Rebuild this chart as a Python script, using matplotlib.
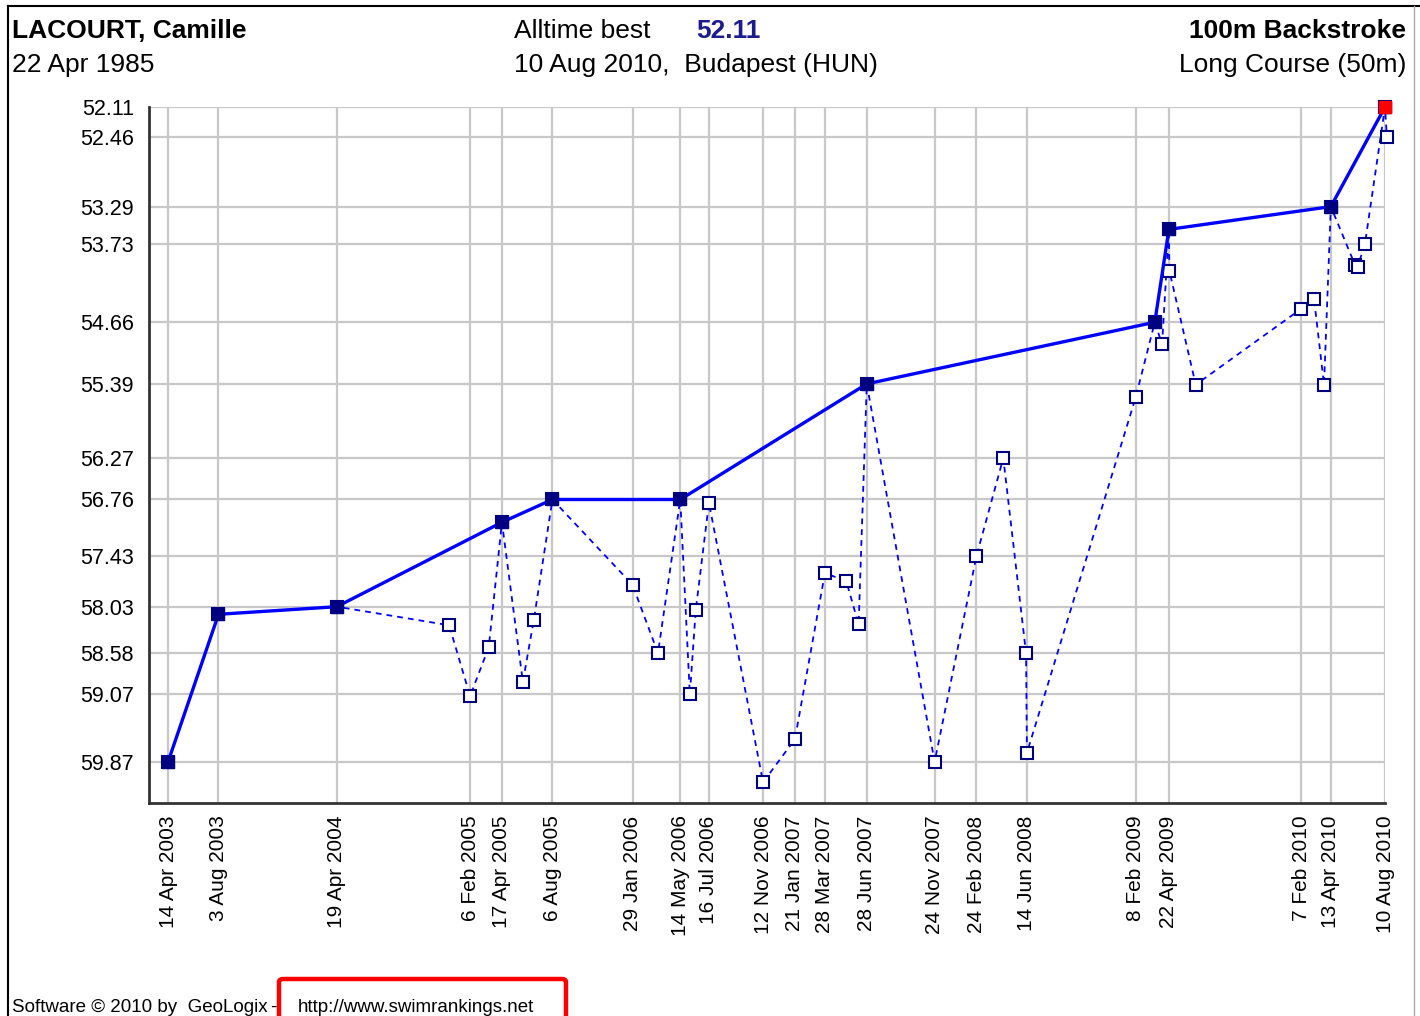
import datetime as dt
import matplotlib
matplotlib.use("Agg")
import matplotlib.pyplot as plt
import matplotlib.dates as mdates
from matplotlib.patches import FancyBboxPatch
from matplotlib.lines import Line2D

plt.rcParams['font.family'] = ['Liberation Sans', 'DejaVu Sans']

D = dt.datetime

# ---- data ----
# every swim, chronological (includes the personal bests)
swim_dates = [
    D(2003, 4, 14), D(2003, 8, 3), D(2004, 4, 19), D(2004, 12, 22), D(2005, 2, 6),
    D(2005, 3, 19), D(2005, 4, 17), D(2005, 6, 2), D(2005, 6, 26), D(2005, 8, 6),
    D(2006, 1, 29), D(2006, 3, 26), D(2006, 5, 14), D(2006, 6, 4), D(2006, 6, 17),
    D(2006, 7, 16), D(2006, 11, 12), D(2007, 1, 21), D(2007, 3, 28), D(2007, 5, 14),
    D(2007, 6, 10), D(2007, 6, 28), D(2007, 11, 24), D(2008, 2, 24), D(2008, 4, 23),
    D(2008, 6, 12), D(2008, 6, 14), D(2009, 2, 8), D(2009, 3, 22), D(2009, 4, 7),
    D(2009, 4, 22), D(2009, 4, 23), D(2009, 6, 20), D(2010, 2, 7), D(2010, 3, 7),
    D(2010, 3, 29), D(2010, 4, 13), D(2010, 6, 5), D(2010, 6, 11), D(2010, 6, 27),
    D(2010, 8, 10), D(2010, 8, 14),
]
swim_times = [
    59.87, 58.12, 58.03, 58.25, 59.09,
    58.51, 57.03, 58.92, 58.19, 56.76,
    57.77, 58.58, 56.76, 59.07, 58.07,
    56.80, 60.11, 59.60, 57.63, 57.73,
    58.24, 55.39, 59.87, 57.43, 56.27,
    58.58, 59.76, 55.55, 54.66, 54.92,
    53.56, 54.05, 55.40, 54.50, 54.38,
    55.40, 53.29, 53.98, 54.00, 53.73,
    52.11, 52.46,
]
# personal-best progression
pb_dates = [
    D(2003, 4, 14), D(2003, 8, 3), D(2004, 4, 19), D(2005, 4, 17), D(2005, 8, 6),
    D(2006, 5, 14), D(2007, 6, 28), D(2009, 3, 22), D(2009, 4, 22), D(2010, 4, 13),
    D(2010, 8, 10),
]
pb_times = [59.87, 58.12, 58.03, 57.03, 56.76, 56.76, 55.39, 54.66, 53.56, 53.29, 52.11]

best_date = D(2010, 8, 10)
best_time = 52.11

y_ticks = [52.11, 52.46, 53.29, 53.73, 54.66, 55.39, 56.27, 56.76, 57.43,
           58.03, 58.58, 59.07, 59.87]
x_tick_dates = [
    D(2003, 4, 14), D(2003, 8, 3), D(2004, 4, 19), D(2005, 2, 6), D(2005, 4, 17),
    D(2005, 8, 6), D(2006, 1, 29), D(2006, 5, 14), D(2006, 7, 16), D(2006, 11, 12),
    D(2007, 1, 21), D(2007, 3, 28), D(2007, 6, 28), D(2007, 11, 24), D(2008, 2, 24),
    D(2008, 6, 14), D(2009, 2, 8), D(2009, 4, 22), D(2010, 2, 7), D(2010, 4, 13),
    D(2010, 8, 10),
]
x_tick_labels = [
    "14 Apr 2003", "3 Aug 2003", "19 Apr 2004", "6 Feb 2005", "17 Apr 2005",
    "6 Aug 2005", "29 Jan 2006", "14 May 2006", "16 Jul 2006", "12 Nov 2006",
    "21 Jan 2007", "28 Mar 2007", "28 Jun 2007", "24 Nov 2007", "24 Feb 2008",
    "14 Jun 2008", "8 Feb 2009", "22 Apr 2009", "7 Feb 2010", "13 Apr 2010",
    "10 Aug 2010",
]

# ---- figure ----
W, H = 1420, 1016
fig = plt.figure(figsize=(W / 100, H / 100), dpi=100)

def fx(x):
    return x / W

def fy(y):
    return 1 - y / H

ax = fig.add_axes([fx(149), fy(803), fx(1385) - fx(149), fy(107) - fy(803)])

NAVY = '#000080'
BLUE = '#0000ff'

ax.plot(swim_dates, swim_times, color=BLUE, lw=1.3, ls=(0, (3.2, 2.8)),
        marker='s', ms=9, mfc='white', mec=NAVY, mew=1.5, zorder=3, clip_on=False)
ax.plot(pb_dates, pb_times, color=BLUE, lw=2.4, marker='s', ms=8.5,
        mfc=NAVY, mec=NAVY, zorder=4, clip_on=False)
ax.plot([best_date], [best_time], ls='none', marker='s', ms=8.5, mfc='#ff0000',
        mec='#ff0000', zorder=5, clip_on=False)

x0 = mdates.date2num(x_tick_dates[0])
x1 = mdates.date2num(x_tick_dates[-1])
ppd = (1385 - 168) / (x1 - x0)
ax.set_xlim(x0 - (168 - 149) / ppd, x1)
ppv = (762 - 107) / (59.87 - 52.11)
ax.set_ylim(52.11 + (803 - 107) / ppv, 52.11)

ax.set_xticks(x_tick_dates)
ax.set_xticklabels(x_tick_labels, rotation=90, fontsize=15, ha='center', va='top')
ax.set_yticks(y_ticks)
ax.set_yticklabels([f"{v:.2f}" for v in y_ticks], fontsize=15.5)
ax.tick_params(axis='both', length=0)
ax.tick_params(axis='x', pad=9)
ax.tick_params(axis='y', pad=11)

ax.grid(True, color='#c8c8c8', lw=1.6, zorder=0)
ax.set_axisbelow(True)
for s in ('top', 'right'):
    ax.spines[s].set_visible(False)
for s in ('left', 'bottom'):
    ax.spines[s].set_color('#333333')
    ax.spines[s].set_linewidth(2)

# ---- header ----
hs = 19
fig.text(fx(12), fy(38), "LACOURT, Camille", fontsize=hs, fontweight='bold', va='baseline')
fig.text(fx(12), fy(72), "22 Apr 1985", fontsize=hs, va='baseline')
fig.text(fx(514), fy(38), "Alltime best", fontsize=hs, va='baseline')
fig.text(fx(696), fy(38), "52.11", fontsize=hs, fontweight='bold', color='#1c1c8c', va='baseline')
fig.text(fx(514), fy(72), "10 Aug 2010,  Budapest (HUN)", fontsize=hs, va='baseline')
fig.text(fx(1406), fy(38), "100m Backstroke", fontsize=hs, fontweight='bold', ha='right', va='baseline')
fig.text(fx(1406), fy(72), "Long Course (50m)", fontsize=hs, ha='right', va='baseline')

# ---- footer ----
fig.text(fx(12), fy(1012), "Software \u00a9 2010 by  GeoLogix", fontsize=13.5, va='baseline')
fig.text(fx(270), fy(1012), "-", fontsize=13.5, va='baseline')
fig.text(fx(298), fy(1012), "http://www.swimrankings.net", fontsize=13.5, va='baseline')
fig.patches.append(FancyBboxPatch((fx(279), fy(1030)), fx(566) - fx(279), fy(979) - fy(1030),
                                  boxstyle='round,pad=0,rounding_size=0.003',
                                  transform=fig.transFigure, fill=False,
                                  edgecolor='#ff0000', lw=3.2))

# ---- frame ----
fig.lines.append(Line2D([fx(8), fx(8)], [fy(6), 0], transform=fig.transFigure, color='black', lw=1.5))
fig.lines.append(Line2D([fx(8), 1], [fy(6), fy(6)], transform=fig.transFigure, color='black', lw=1.5))
fig.lines.append(Line2D([fx(1414), fx(1414)], [fy(6), 0], transform=fig.transFigure, color='#aaaaaa', lw=1))

fig.savefig("out.png", dpi=100)
